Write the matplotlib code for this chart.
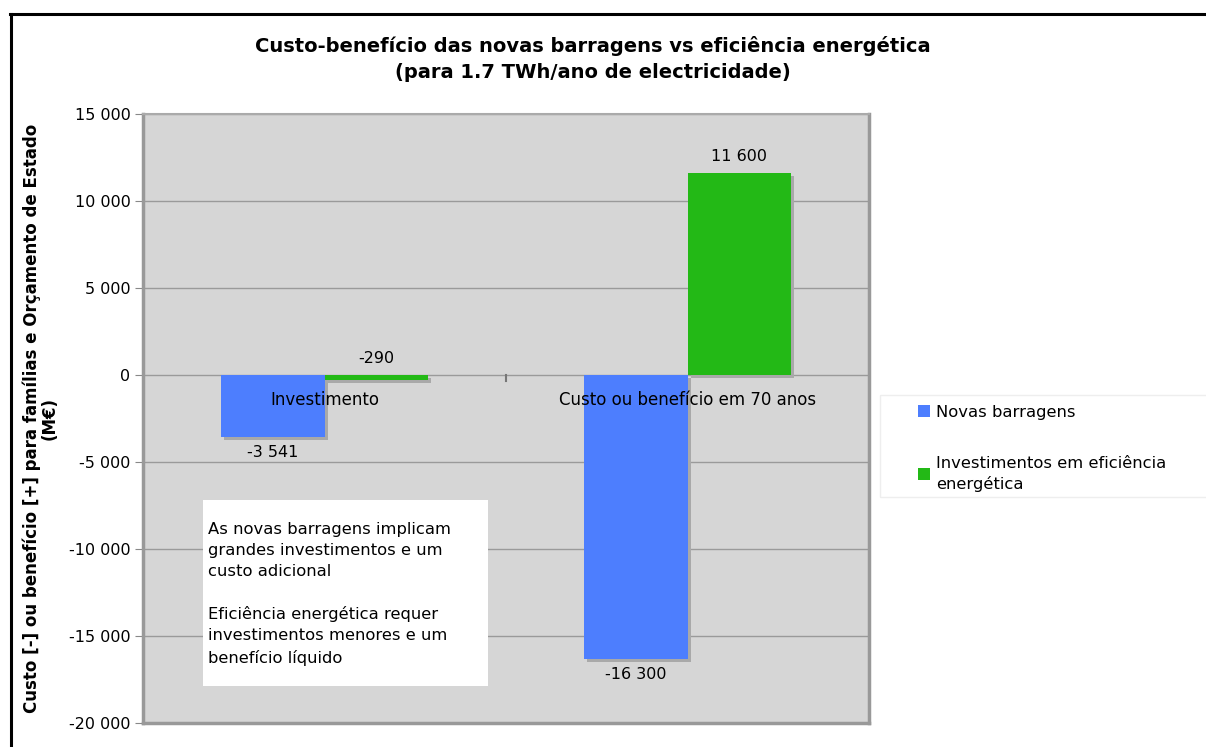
import matplotlib
matplotlib.use("Agg")
import matplotlib.pyplot as plt
import matplotlib.patheffects as pe
from matplotlib.lines import Line2D
from matplotlib.patches import Rectangle, Patch
from matplotlib.ticker import FuncFormatter

# Données (M€)
categorias = ["Investimento", "Custo ou benefício em 70 anos"]
series = ["Novas barragens", "Investimentos em eficiência\nenergética"]
barragens = [-3541, -16300]
eficiencia = [-290, 11600]
cores = ["#4d7efe", "#23b916"]
yticks = [15000, 10000, 5000, 0, -5000, -10000, -15000, -20000]

titulo = "Custo-benefício das novas barragens vs eficiência energética\n(para 1.7 TWh/ano de electricidade)"
ylabel = "Custo [-] ou benefício [+] para famílias e Orçamento de Estado\n(M€)"
nota = ("As novas barragens implicam\ngrandes investimentos e um\ncusto adicional\n\n"
        "Eficiência energética requer\ninvestimentos menores e um\nbenefício líquido")


def fmt_milhar(v, pos=None):
    s = f"{abs(int(v)):,}".replace(",", " ")
    return ("-" if v < 0 else "") + s


W, H = 1206, 747
fig = plt.figure(figsize=(W / 100, H / 100), dpi=100)
fig.patch.set_facecolor("white")

ax = fig.add_axes([143 / W, 1 - 723 / H, 726 / W, 609 / H])
ax.set_facecolor("#d6d6d6")

largura = 0.284
sombra = [pe.SimplePatchShadow(offset=(2.2, -2.2), shadow_rgbFace="#a9a9a9", alpha=1), pe.Normal()]
# rótulos: barragens por baixo, eficiência por cima
acima = [False, True]
for i, (vals, cor) in enumerate(zip([barragens, eficiencia], cores)):
    xs = [k + (i - 0.5) * largura for k in range(len(categorias))]
    barras = ax.bar(xs, vals, width=largura, color=cor, zorder=3, label=series[i])
    for b, v in zip(barras, vals):
        b.set_path_effects(sombra)
        x = b.get_x() + b.get_width() / 2
        if acima[i]:
            ax.text(x, max(v, 0) + 500, fmt_milhar(v), ha="center", va="bottom", fontsize=11.5, zorder=5)
        else:
            ax.text(x, min(v, 0) - 500, fmt_milhar(v), ha="center", va="top", fontsize=11.5, zorder=5)

# rótulos das categorias junto ao eixo zero
for k, c in enumerate(categorias):
    ax.text(k, -900, c, ha="center", va="top", fontsize=12, zorder=6)

# pequena marca entre categorias no eixo zero
for k in range(len(categorias) - 1):
    ax.plot([k + 0.5, k + 0.5], [0, -350], color="#777777", lw=1.5, zorder=2)

ax.set_xlim(-0.5, 1.5)
ax.set_ylim(-20000, 15000)
ax.set_xticks([])
ax.set_yticks(yticks)
ax.yaxis.set_major_formatter(FuncFormatter(fmt_milhar))
ax.tick_params(axis="y", length=6, color="#888888", labelsize=11.5, pad=3)
ax.grid(axis="y", color="#9a9a9a", lw=1, zorder=1)
ax.set_axisbelow(True)

for s in ["left", "right", "bottom"]:
    ax.spines[s].set_color("#999999")
    ax.spines[s].set_linewidth(2.5)
ax.spines["top"].set_color("#aaaaaa")
ax.spines["top"].set_linewidth(1.5)

ax.set_ylabel(ylabel, fontsize=12, fontweight="bold", linespacing=0.95)
ax.yaxis.set_label_coords(-0.116, 0.5)

# caixa de nota
ax.add_patch(Rectangle((203 / W, 1 - 686 / H), 285 / W, 186 / H, transform=fig.transFigure,
                       facecolor="white", edgecolor="none", zorder=7))
fig.text(208 / W, 1 - 522 / H, nota, ha="left", va="top", fontsize=11.8, linespacing=1.5, zorder=8)

# título
fig.text(593 / W, 1 - 59 / H, titulo, ha="center", va="center", fontsize=14,
         fontweight="bold", linespacing=1.5)

# legenda (moldura desenhada à parte)
fig.add_artist(Rectangle((880 / W, 1 - 497 / H), 340 / W, 102 / H, transform=fig.transFigure,
                         facecolor="white", edgecolor="#eeeeee", lw=1))
handles = [Patch(facecolor=c, edgecolor="none") for c in cores]
leg = fig.legend(handles, series, loc="upper left", bbox_to_anchor=(918 / W, 1 - 405 / H),
                 frameon=False, fontsize=11.8, handlelength=0.75, handleheight=0.75,
                 handletextpad=0.35, labelspacing=2.2, borderpad=0, borderaxespad=0)
for t in leg.get_texts():
    t.set_linespacing(1.4)

# moldura preta
fig.add_artist(Line2D([10 / W, 1], [1 - 14 / H, 1 - 14 / H], color="black", lw=2.2))
fig.add_artist(Line2D([11 / W, 11 / W], [0, 1 - 14 / H], color="black", lw=2.2))

fig.savefig("out.png", dpi=100)
